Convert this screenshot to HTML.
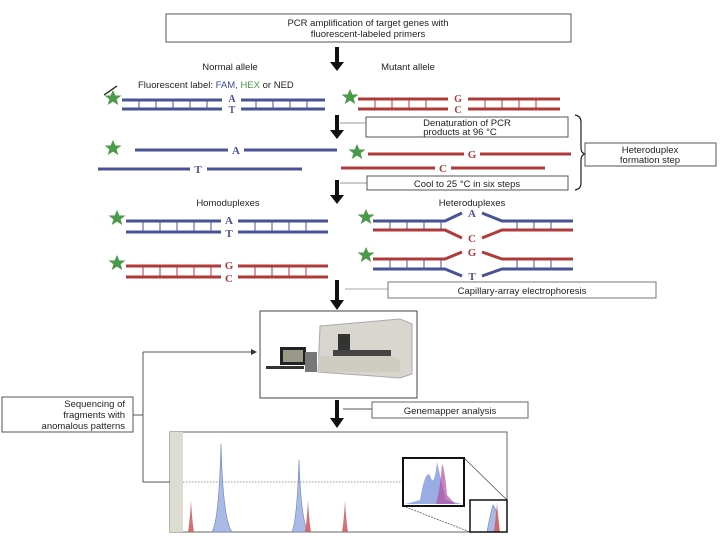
<!DOCTYPE html>
<html><head><meta charset="utf-8"><style>
body{margin:0;background:#fff;}
svg{display:block;font-family:"Liberation Sans",sans-serif;}
.t{font-size:9.5px;fill:#222;text-anchor:middle;}
.s{font-family:"Liberation Serif",serif;font-weight:bold;font-size:11px;text-anchor:middle;}
</style></head><body>
<svg width="720" height="540" viewBox="0 0 720 540" xmlns="http://www.w3.org/2000/svg">
<defs>
<polygon id="star" points="0,-8 2.4,-2.5 8.5,-2.5 3.6,1.2 5.3,7 0,3.6 -5.3,7 -3.6,1.2 -8.5,-2.5 -2.4,-2.5" fill="#4a9a4a"/>
<marker id="ah" markerWidth="6" markerHeight="6" refX="5" refY="3" orient="auto"><path d="M0,0 L6,3 L0,6z" fill="#333"/></marker>
</defs>
<rect x="166" y="14" width="405" height="28" fill="#fff" stroke="#555"/>
<text class="t" x="368" y="26">PCR amplification of target genes with</text>
<text class="t" x="368" y="37">fluorescent-labeled primers</text>
<g fill="#111">
<rect x="335" y="47" width="4" height="16"/><path d="M330,62 L344,62 L337,71z"/>
<rect x="335" y="115" width="4" height="16"/><path d="M330,130 L344,130 L337,139z"/>
<rect x="335" y="180" width="4" height="16"/><path d="M330,195 L344,195 L337,204z"/>
<rect x="335" y="280" width="4" height="22"/><path d="M330,300 L344,300 L337,310z"/>
<rect x="335" y="400" width="4" height="20"/><path d="M330,418 L344,418 L337,428z"/>
</g>
<text class="t" x="230" y="70">Normal allele</text>
<text class="t" x="408" y="70">Mutant allele</text>
<line x1="104" y1="95" x2="117" y2="86" stroke="#111" stroke-width="1.2"/>
<text x="138" y="88" style="font-size:9.5px;fill:#222">Fluorescent label: <tspan fill="#3a4a9a">FAM,</tspan> <tspan fill="#4a9a4a">HEX</tspan> or NED</text>
<g stroke="#4a5296" stroke-width="3">
<line x1="122" y1="100" x2="222" y2="100"/><line x1="241" y1="100" x2="325" y2="100"/>
<line x1="122" y1="109" x2="222" y2="109"/><line x1="241" y1="109" x2="325" y2="109"/>
</g>
<g stroke="#4a5296" stroke-width="1"><path d="M139,100V109M156,100V109M173,100V109M190,100V109M207,100V109M256,100V109M273,100V109M290,100V109M307,100V109"/></g>
<text class="s" x="232" y="102" fill="#4a5296" style="font-size:10px">A</text><text class="s" x="232" y="113" fill="#4a5296" style="font-size:10px">T</text>
<use href="#star" x="113" y="98"/>
<g stroke="#b03a3a" stroke-width="3">
<line x1="358" y1="99" x2="448" y2="99"/><line x1="468" y1="99" x2="560" y2="99"/>
<line x1="358" y1="109" x2="448" y2="109"/><line x1="468" y1="109" x2="560" y2="109"/>
</g>
<g stroke="#b03a3a" stroke-width="1"><path d="M375,99V109M392,99V109M409,99V109M426,99V109M485,99V109M502,99V109M519,99V109M536,99V109"/></g>
<text class="s" x="458" y="102" fill="#b03a3a" style="font-size:10px">G</text><text class="s" x="458" y="113" fill="#b03a3a" style="font-size:10px">C</text>
<use href="#star" x="350" y="97"/>
<line x1="340" y1="123" x2="366" y2="123" stroke="#999"/>
<rect x="366" y="117" width="202" height="20" fill="#fff" stroke="#555"/>
<text class="t" x="467" y="126">Denaturation of PCR</text>
<text class="t" x="460" y="135">products at 96 °C</text>
<path d="M575,115 Q581,116 581,122 L581,148 Q581,153 585,154 Q581,155 581,160 L581,183 Q581,189 575,190" fill="none" stroke="#222" stroke-width="1.2"/>
<rect x="585" y="143" width="131" height="23" fill="#fff" stroke="#555"/>
<text class="t" x="650" y="153">Heteroduplex</text>
<text class="t" x="650" y="163">formation step</text>
<use href="#star" x="113" y="148"/>
<g stroke="#4a5296" stroke-width="3">
<line x1="135" y1="150" x2="228" y2="150"/><line x1="244" y1="150" x2="337" y2="150"/>
<line x1="98" y1="169" x2="190" y2="169"/><line x1="207" y1="169" x2="302" y2="169"/>
</g>
<text class="s" x="236" y="154" fill="#4a5296">A</text><text class="s" x="198" y="173" fill="#4a5296">T</text>
<use href="#star" x="357" y="152"/>
<g stroke="#b03a3a" stroke-width="3">
<line x1="368" y1="154" x2="464" y2="154"/><line x1="480" y1="154" x2="571" y2="154"/>
<line x1="341" y1="168" x2="435" y2="168"/><line x1="451" y1="168" x2="545" y2="168"/>
</g>
<text class="s" x="472" y="158" fill="#b03a3a">G</text><text class="s" x="443" y="172" fill="#b03a3a">C</text>
<line x1="340" y1="183" x2="367" y2="183" stroke="#999"/>
<rect x="367" y="176" width="201" height="14" fill="#fff" stroke="#555"/>
<text class="t" x="467" y="187">Cool to 25 °C in six steps</text>
<text class="t" x="228" y="206">Homoduplexes</text>
<text class="t" x="472" y="206">Heteroduplexes</text>
<use href="#star" x="117" y="218"/>
<g stroke="#4a5296" stroke-width="3">
<line x1="126" y1="221" x2="221" y2="221"/><line x1="238" y1="221" x2="328" y2="221"/>
<line x1="126" y1="232" x2="221" y2="232"/><line x1="238" y1="232" x2="328" y2="232"/>
</g>
<g stroke="#4a5296" stroke-width="1"><path d="M143,221V232M160,221V232M177,221V232M194,221V232M211,221V232M255,221V232M272,221V232M289,221V232M306,221V232"/></g>
<text class="s" x="229" y="224" fill="#4a5296">A</text><text class="s" x="229" y="237" fill="#4a5296">T</text>
<use href="#star" x="117" y="263"/>
<g stroke="#b03a3a" stroke-width="3">
<line x1="126" y1="266" x2="221" y2="266"/><line x1="238" y1="266" x2="328" y2="266"/>
<line x1="126" y1="277" x2="221" y2="277"/><line x1="238" y1="277" x2="328" y2="277"/>
</g>
<g stroke="#b03a3a" stroke-width="1"><path d="M143,266V277M160,266V277M177,266V277M194,266V277M211,266V277M255,266V277M272,266V277M289,266V277M306,266V277"/></g>
<text class="s" x="229" y="269" fill="#b03a3a">G</text><text class="s" x="229" y="282" fill="#b03a3a">C</text>
<use href="#star" x="366" y="217"/>
<g fill="none" stroke-width="3">
<path d="M373,221 L445,221 L462,213 M482,213 L502,221 L573,221" stroke="#4a5296"/>
<path d="M373,230 L445,230 L462,238 M482,238 L502,230 L573,230" stroke="#b03a3a"/>
<path d="M373,259 L445,259 L462,252 M482,252 L502,259 L573,259" stroke="#b03a3a"/>
<path d="M373,269 L445,269 L462,276 M482,276 L502,269 L573,269" stroke="#4a5296"/>
</g>
<g stroke="#4a5296" stroke-width="1"><path d="M390,221V230M407,221V230M424,221V230M441,221V230M517,221V230M534,221V230M551,221V230"/></g>
<g stroke="#4a5296" stroke-width="1"><path d="M390,259V269M407,259V269M424,259V269M441,259V269M517,259V269M534,259V269M551,259V269"/></g>
<text class="s" x="472" y="217" fill="#4a5296">A</text><text class="s" x="472" y="242" fill="#b03a3a">C</text>
<text class="s" x="472" y="256" fill="#b03a3a">G</text><text class="s" x="472" y="280" fill="#4a5296">T</text>
<use href="#star" x="366" y="255"/>
<line x1="345" y1="289" x2="388" y2="289" stroke="#aaa"/>
<rect x="388" y="282" width="268" height="16" fill="#fff" stroke="#777"/>
<text class="t" x="522" y="294">Capillary-array electrophoresis</text>
<rect x="260" y="311" width="157" height="87" fill="#fff" stroke="#444"/>
<g>
<path d="M320,326 L400,319 L412,324 L412,374 L400,378 L318,372z" fill="#d8d6ce" stroke="#aaa"/>
<rect x="338" y="334" width="12" height="20" fill="#333"/>
<rect x="333" y="350" width="58" height="6" fill="#444"/>
<path d="M318,356 L392,356 L400,360 L400,372 L318,372z" fill="#cfccc2"/>
<rect x="280" y="347" width="26" height="18" fill="#222"/>
<rect x="283" y="350" width="20" height="12" fill="#998"/>
<rect x="266" y="366" width="38" height="3" fill="#333"/>
<rect x="305" y="352" width="12" height="20" fill="#777"/>
</g>
<line x1="343" y1="409" x2="372" y2="409" stroke="#555"/>
<rect x="372" y="402" width="156" height="16" fill="#fff" stroke="#666"/>
<text class="t" x="450" y="414">Genemapper analysis</text>
<rect x="2" y="397" width="131" height="35" fill="#fff" stroke="#555"/>
<g style="font-size:9.5px;fill:#222;text-anchor:end"><text x="125" y="407">Sequencing of</text><text x="125" y="418">fragments with</text><text x="125" y="429">anomalous patterns</text></g>
<path d="M133,415 H143 M143,352 V482 H171 M143,352 H256" fill="none" stroke="#555" marker-end="url(#ah)"/>
<rect x="170" y="432" width="337" height="100" fill="#fff" stroke="#666"/>
<rect x="170" y="432" width="13" height="100" fill="#dcdcd0"/>
<line x1="183" y1="482" x2="403" y2="482" stroke="#999" stroke-dasharray="1.5,1.5"/>
<g fill="#9aaee0" fill-opacity="0.85" stroke="#6a7ec0" stroke-width="0.6">
<path d="M212,532 Q219,520 221,444 Q223,520 232,532z"/>
<path d="M292,532 Q297,520 299,460 Q301,520 308,532z"/>
<path d="M487,532 Q490,515 493,505 L496,510 L498,532z"/>
</g>
<g fill="#d06060" fill-opacity="0.9">
<path d="M188,532 Q190,520 191,500 Q192,520 194,532z"/>
<path d="M305,532 Q307,520 308,500 Q309,520 311,532z"/>
<path d="M342,532 Q344,520 345,500 Q346,520 348,532z"/>
<path d="M494,532 Q496,515 497,503 Q498,515 500,532z"/>
</g>
<line x1="464" y1="458" x2="507" y2="500" stroke="#444" stroke-width="0.7"/>
<line x1="403" y1="506" x2="470" y2="532" stroke="#444" stroke-width="0.7" stroke-dasharray="2,1"/>
<rect x="403" y="458" width="61" height="48" fill="#fff" stroke="#111" stroke-width="2"/>
<path d="M405,504 L420,500 Q425,470 430,475 Q434,490 437,462 Q441,480 446,500 L462,504z" fill="#8a9ee0" fill-opacity="0.85"/>
<path d="M436,504 Q440,490 442,464 Q445,470 447,495 L455,504z" fill="#b050a0" fill-opacity="0.7"/>
<rect x="470" y="500" width="37" height="32" fill="none" stroke="#111" stroke-width="1.5"/>
</svg>
</body></html>
